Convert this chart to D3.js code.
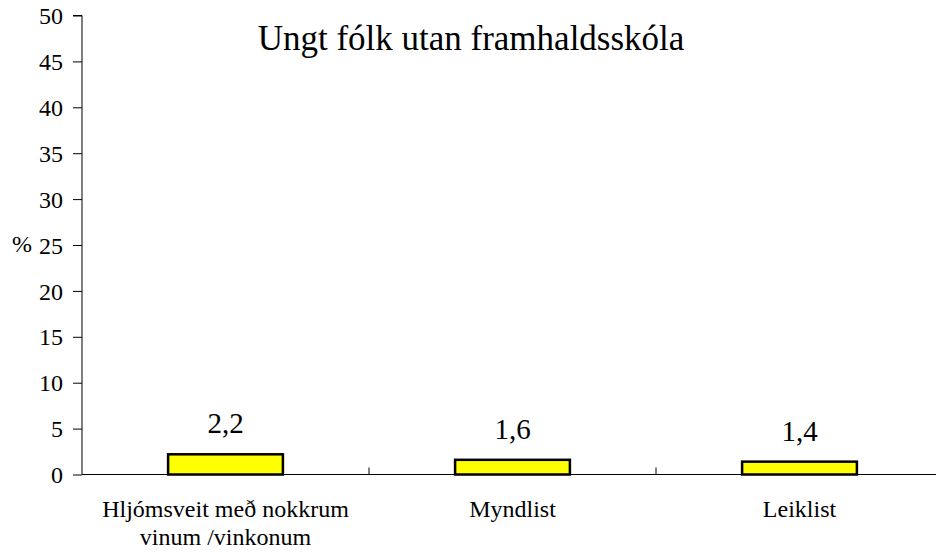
<!DOCTYPE html>
<html><head><meta charset="utf-8">
<script src="https://cdn.jsdelivr.net/npm/d3@7/dist/d3.min.js"></script>
</head>
<body style="margin:0;background:#fff"><svg id="c" width="936" height="552" style="font-family:'Liberation Serif'"></svg>
<script>
const categories = [["Hljómsveit með nokkrum","vinum /vinkonum"],["Myndlist"],["Leiklist"]];
const values = [2.2, 1.6, 1.4];
const valueLabels = ["2,2","1,6","1,4"];
const yTicks = [0,5,10,15,20,25,30,35,40,45,50];
const title = "Ungt fólk utan framhaldsskóla";
const yUnit = "%";

const FONT = '"Liberation Serif"';
const svg = d3.select("#c");
const x0 = 82, x1 = 943, yTop = 15.5, yBot = 474.5;
const x = d3.scaleBand().domain(d3.range(categories.length)).range([x0, x1]).paddingInner(0).paddingOuter(0);
const y = d3.scaleLinear().domain([0, 50]).range([yBot, yTop]);

// y axis
const yAxis = d3.axisLeft(y).tickValues(yTicks).tickSize(9).tickPadding(10).tickFormat(d3.format("d"));
const gy = svg.append("g").attr("transform", `translate(${x0},0)`).call(yAxis);
gy.attr("font-family", null).attr("font-size", null);
gy.select(".domain").attr("stroke", "#000").attr("stroke-width", 1).attr("d", `M-9,${yTop}H0V${yBot}`);
gy.selectAll(".tick line").attr("stroke", "#000");
gy.selectAll(".tick text").style("font-family", FONT).style("font-size", "24px").attr("dy", "0.34em").attr("fill", "#000");

// x axis line
svg.append("line").attr("x1", x0).attr("x2", x1).attr("y1", yBot).attr("y2", yBot).attr("stroke", "#000").attr("stroke-width", 1);
// category boundary ticks (inside)
const bounds = d3.range(1, categories.length).map(i => x(i));
svg.selectAll(".xt").data(bounds).enter().append("line")
  .attr("x1", d => d).attr("x2", d => d).attr("y1", yBot).attr("y2", yBot - 7).attr("stroke", "#000");

// bars
const bw = x.bandwidth() * 0.4;
svg.selectAll(".bar").data(values).enter().append("rect")
  .attr("x", (d, i) => x(i) + x.bandwidth() / 2 - bw / 2)
  .attr("y", d => y(d))
  .attr("width", bw)
  .attr("height", d => y(0) - y(d))
  .attr("fill", "#ffff00").attr("stroke", "#000").attr("stroke-width", 2.5);

// value labels
svg.selectAll(".vl").data(values).enter().append("text")
  .attr("x", (d, i) => x(i) + x.bandwidth() / 2)
  .attr("y", d => y(d) - 21)
  .attr("text-anchor", "middle").style("font-family", FONT).style("font-size", "29px")
  .text((d, i) => valueLabels[i]);

// category labels
categories.forEach((lines, i) => {
  lines.forEach((ln, j) => {
    svg.append("text").attr("x", x(i) + x.bandwidth() / 2).attr("y", 517 + j * 28)
      .attr("text-anchor", "middle").style("font-family", FONT).style("font-size", "24px").text(ln);
  });
});

// title
svg.append("text").attr("x", 471).attr("y", 50).attr("text-anchor", "middle").style("font-family", FONT).style("font-size", "35px").text(title);
// unit
svg.append("text").attr("x", 12).attr("y", 252).style("font-family", FONT).style("font-size", "24px").text(yUnit);
</script></body></html>
